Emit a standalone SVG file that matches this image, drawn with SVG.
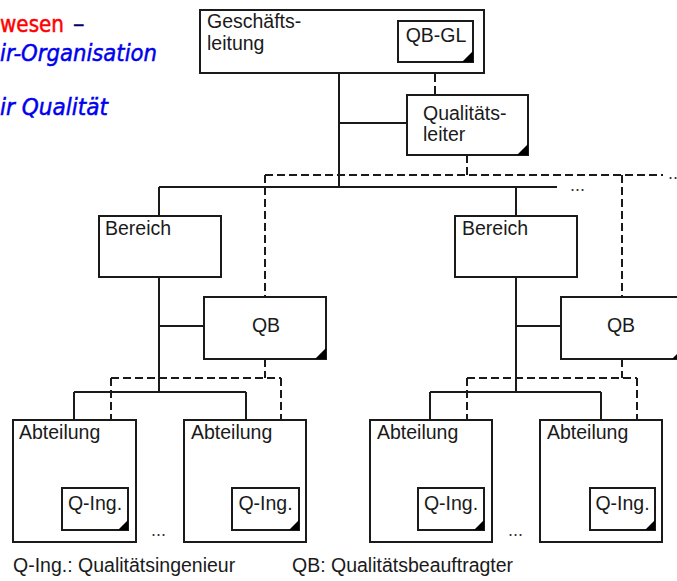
<svg xmlns="http://www.w3.org/2000/svg" width="677" height="581" viewBox="0 0 677 581">
<defs>
<style>
.box{fill:#fff;stroke:#1a1a1a;stroke-width:2}
.lbl{font-family:"Liberation Sans",Arial,sans-serif;font-size:19.5px;fill:#1a1a1a}
.mid{text-anchor:middle}
.solid{fill:none;stroke:#1a1a1a;stroke-width:2}
.dash{fill:none;stroke:#1a1a1a;stroke-width:2;stroke-dasharray:8 4}
.tri{fill:#000}
.dots{font-family:"Liberation Sans",Arial,sans-serif;font-size:18px;fill:#333}
.ttl{font-family:"DejaVu Sans",sans-serif;font-size:23px;stroke-width:0.5}
.it{font-style:italic;fill:#0000ee;stroke:#0000ee}
</style>
</defs>
<rect width="677" height="581" fill="#fff"/>

<g id="title">
<text class="ttl" x="0" y="32" fill="#ff0000" stroke="#ff0000" textLength="64" lengthAdjust="spacingAndGlyphs">wesen</text>
<text class="ttl" x="73" y="32" fill="#000066" stroke="#000066">–</text>
<text class="ttl it" x="0" y="61" textLength="157" lengthAdjust="spacingAndGlyphs">ir-Organisation</text>
<text class="ttl it" x="0" y="115" textLength="108" lengthAdjust="spacingAndGlyphs">ir Qualität</text>
</g>

<g id="connectors">
<path class="solid" d="M339 73V187M339 123H407M159 187H557M159 187V216M516 187V216"/>
<path class="solid" d="M159 277V392M159 326H204M74 392H246M74 392V420M246 392V420"/>
<path class="solid" d="M516 277V392M516 326H561M430 392H601M430 392V420M601 392V420"/>
<path class="dash" d="M435 62V95M467 155V175M265 175H663M265 175V297M622 175V297"/>
<path class="dash" d="M265 359V378M111 378H281M111 378V488M281 378V488"/>
<path class="dash" d="M622 359V378M467 378H637M467 378V488M637 378V488"/>
<text class="dots" x="570" y="191">...</text>
<text class="dots" x="668" y="179">..</text>
<text class="dots" x="151" y="536">...</text>
<text class="dots" x="508" y="536">...</text>
</g>

<g id="geschaeftsleitung">
<rect class="box" x="200" y="10" width="284" height="63"/>
<text class="lbl" x="207" y="28">Geschäfts-</text>
<text class="lbl" x="207" y="50">leitung</text>
</g>
<g id="qb-gl">
<rect class="box" x="398" y="21" width="75" height="41"/>
<path class="tri" d="M473 51V62H462Z"/>
<text class="lbl mid" x="436" y="42">QB-GL</text>
</g>
<g id="qualitaetsleiter">
<rect class="box" x="407" y="95" width="121" height="60"/>
<path class="tri" d="M528 144V155H517Z"/>
<text class="lbl" x="423" y="120">Qualitäts-</text>
<text class="lbl" x="423" y="141">leiter</text>
</g>

<g id="bereich-1">
<rect class="box" x="99" y="216" width="122" height="61"/>
<text class="lbl" x="105" y="235">Bereich</text>
</g>
<g id="qb-1">
<rect class="box" x="204" y="297" width="122" height="62"/>
<path class="tri" d="M326 348V359H315Z"/>
<text class="lbl mid" x="266" y="332">QB</text>
</g>
<g id="bereich-2">
<rect class="box" x="455" y="216" width="122" height="61"/>
<text class="lbl" x="462" y="235">Bereich</text>
</g>
<g id="qb-2">
<rect class="box" x="561" y="297" width="122" height="62"/>
<path class="tri" d="M683 348V359H672Z"/>
<text class="lbl mid" x="621" y="332">QB</text>
</g>

<g id="abteilung-1">
<rect class="box" x="13" y="420" width="123" height="122"/>
<text class="lbl" x="19" y="439">Abteilung</text>
</g>
<g id="qing-1">
<rect class="box" x="62" y="488" width="66" height="42"/>
<path class="tri" d="M128 520V530H118Z"/>
<text class="lbl mid" x="95" y="510">Q-Ing.</text>
</g>
<g id="abteilung-2">
<rect class="box" x="184" y="420" width="122" height="122"/>
<text class="lbl" x="191" y="439">Abteilung</text>
</g>
<g id="qing-2">
<rect class="box" x="232" y="488" width="67" height="42"/>
<path class="tri" d="M299 520V530H289Z"/>
<text class="lbl mid" x="265.5" y="510">Q-Ing.</text>
</g>
<g id="abteilung-3">
<rect class="box" x="370" y="420" width="122" height="122"/>
<text class="lbl" x="377" y="439">Abteilung</text>
</g>
<g id="qing-3">
<rect class="box" x="418" y="488" width="66" height="42"/>
<path class="tri" d="M484 520V530H474Z"/>
<text class="lbl mid" x="451" y="510">Q-Ing.</text>
</g>
<g id="abteilung-4">
<rect class="box" x="540" y="420" width="122" height="122"/>
<text class="lbl" x="547" y="439">Abteilung</text>
</g>
<g id="qing-4">
<rect class="box" x="590" y="488" width="65" height="42"/>
<path class="tri" d="M655 520V530H645Z"/>
<text class="lbl mid" x="622.5" y="510">Q-Ing.</text>
</g>

<g id="legend">
<text class="lbl" x="13" y="572">Q-Ing.: Qualitätsingenieur</text>
<text class="lbl" x="292" y="572">QB: Qualitätsbeauftragter</text>
</g>
</svg>
